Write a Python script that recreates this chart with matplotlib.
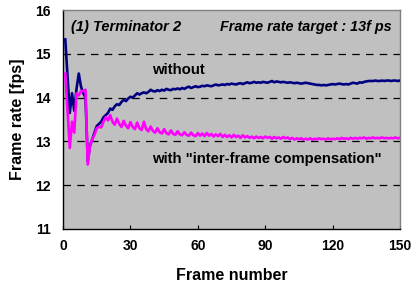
import matplotlib
matplotlib.use("Agg")
import matplotlib.pyplot as plt
import numpy as np

plt.rcParams['font.family'] = ['Liberation Sans', 'DejaVu Sans']

frames = list(range(1, 151))

without = [
    15.33, 14.50, 13.65, 14.10, 13.70, 14.20, 14.55, 14.25, 14.10, 14.00,
    12.55, 12.90, 13.05, 13.20, 13.35, 13.40, 13.45, 13.55, 13.60, 13.65,
    13.75, 13.72, 13.80, 13.85, 13.83, 13.90, 13.95, 13.92, 13.98, 14.02,
    14.00, 14.05, 14.10, 14.07, 14.10, 14.12, 14.10, 14.13, 14.18, 14.15,
    14.14, 14.17, 14.15, 14.18, 14.16, 14.20, 14.18, 14.17, 14.20, 14.19,
    14.21, 14.19, 14.22, 14.20, 14.23, 14.25, 14.22, 14.24, 14.26, 14.24,
    14.25, 14.27, 14.26, 14.28, 14.27, 14.26, 14.28, 14.30, 14.28, 14.29,
    14.30, 14.29, 14.31, 14.30, 14.32, 14.31, 14.30, 14.32, 14.33, 14.31,
    14.33, 14.35, 14.33, 14.34, 14.36, 14.34, 14.35, 14.34, 14.36, 14.35,
    14.34, 14.36, 14.38, 14.35, 14.37, 14.36, 14.35, 14.36, 14.35, 14.34,
    14.35, 14.34, 14.33, 14.34, 14.33, 14.32, 14.33, 14.34, 14.33, 14.32,
    14.31, 14.30, 14.29, 14.29, 14.28, 14.29, 14.28, 14.29, 14.30, 14.31,
    14.30, 14.31, 14.32, 14.31, 14.30, 14.31, 14.30, 14.32, 14.34, 14.33,
    14.32, 14.35, 14.34, 14.36, 14.37, 14.38, 14.38, 14.38, 14.39, 14.38,
    14.38, 14.39, 14.38, 14.39, 14.39, 14.38, 14.39, 14.39, 14.38, 14.39,
]

with_comp = [
    14.55, 13.70, 12.85, 13.45, 13.20, 14.10, 14.05, 14.15, 14.15, 14.18,
    12.47, 12.90, 13.05, 13.15, 13.30, 13.33, 13.32, 13.45, 13.55, 13.48,
    13.60, 13.45, 13.38, 13.52, 13.40, 13.33, 13.47, 13.36, 13.30, 13.44,
    13.33, 13.28, 13.43, 13.30, 13.26, 13.45, 13.28, 13.23, 13.34, 13.24,
    13.20, 13.30, 13.21, 13.18, 13.28, 13.19, 13.16, 13.25, 13.17, 13.15,
    13.23, 13.16, 13.14, 13.21, 13.15, 13.13, 13.20, 13.14, 13.12, 13.19,
    13.13, 13.18, 13.12, 13.19, 13.13, 13.17, 13.11, 13.16, 13.12, 13.17,
    13.10, 13.15, 13.10, 13.14, 13.09, 13.15, 13.10, 13.13, 13.08, 13.14,
    13.09, 13.12, 13.08, 13.11, 13.07, 13.11, 13.08, 13.10, 13.07, 13.11,
    13.08, 13.10, 13.06, 13.10, 13.07, 13.09, 13.06, 13.10, 13.07, 13.09,
    13.05, 13.08, 13.04, 13.07, 13.05, 13.07, 13.04, 13.06, 13.04, 13.07,
    13.04, 13.06, 13.05, 13.07, 13.05, 13.06, 13.04, 13.07, 13.05, 13.06,
    13.05, 13.07, 13.05, 13.08, 13.06, 13.07, 13.05, 13.08, 13.06, 13.08,
    13.06, 13.08, 13.07, 13.09, 13.06, 13.08, 13.07, 13.09, 13.07, 13.08,
    13.07, 13.09, 13.07, 13.08, 13.07, 13.08, 13.07, 13.09, 13.07, 13.08,
]

xticks = [0, 30, 60, 90, 120, 150]
yticks = [11, 12, 13, 14, 15, 16]

fig = plt.figure(figsize=(4.12, 2.89), dpi=100)
ax = fig.add_axes([0.153, 0.208, 0.818, 0.757])
ax.set_facecolor('#C0C0C0')

for yv in [12, 13, 14, 15]:
    ax.axhline(yv, color='black', lw=0.9, dashes=(6, 5), zorder=1)

ax.plot(frames, without, color='#000080', lw=1.9, zorder=3)
ax.plot(frames, with_comp, color='#FF00FF', lw=1.9, zorder=4)

ax.set_xlim(0, 150)
ax.set_ylim(11, 16)
ax.set_xticks(xticks)
ax.set_yticks(yticks)
ax.tick_params(axis='x', direction='in', length=3, pad=7, labelsize=10)
ax.tick_params(axis='y', direction='in', length=0, pad=9, labelsize=10)
for lab in ax.get_xticklabels() + ax.get_yticklabels():
    lab.set_fontweight('bold')

for s in ['left', 'bottom']:
    ax.spines[s].set_color('black')
    ax.spines[s].set_linewidth(1.0)
for s in ['top', 'right']:
    ax.spines[s].set_color('#808080')
    ax.spines[s].set_linewidth(1.0)

ax.set_xlabel('Frame number', fontsize=11.5, fontweight='bold', labelpad=11)
ax.set_ylabel('Frame rate [fps]', fontsize=11.5, fontweight='bold', labelpad=7)

ax.text(0.025, 0.924, '(1) Terminator 2', transform=ax.transAxes,
        fontsize=10.5, fontweight='bold', style='italic', va='center', ha='left')
ax.text(0.975, 0.924, 'Frame rate target : 13f ps', transform=ax.transAxes,
        fontsize=10.4, fontweight='bold', style='italic', va='center', ha='right')
ax.text(0.264, 0.726, 'without', transform=ax.transAxes,
        fontsize=10.8, fontweight='bold', va='center', ha='left')
ax.text(0.264, 0.32, 'with "inter-frame compensation"', transform=ax.transAxes,
        fontsize=10.7, fontweight='bold', va='center', ha='left')

fig.savefig('out.png', dpi=100)
